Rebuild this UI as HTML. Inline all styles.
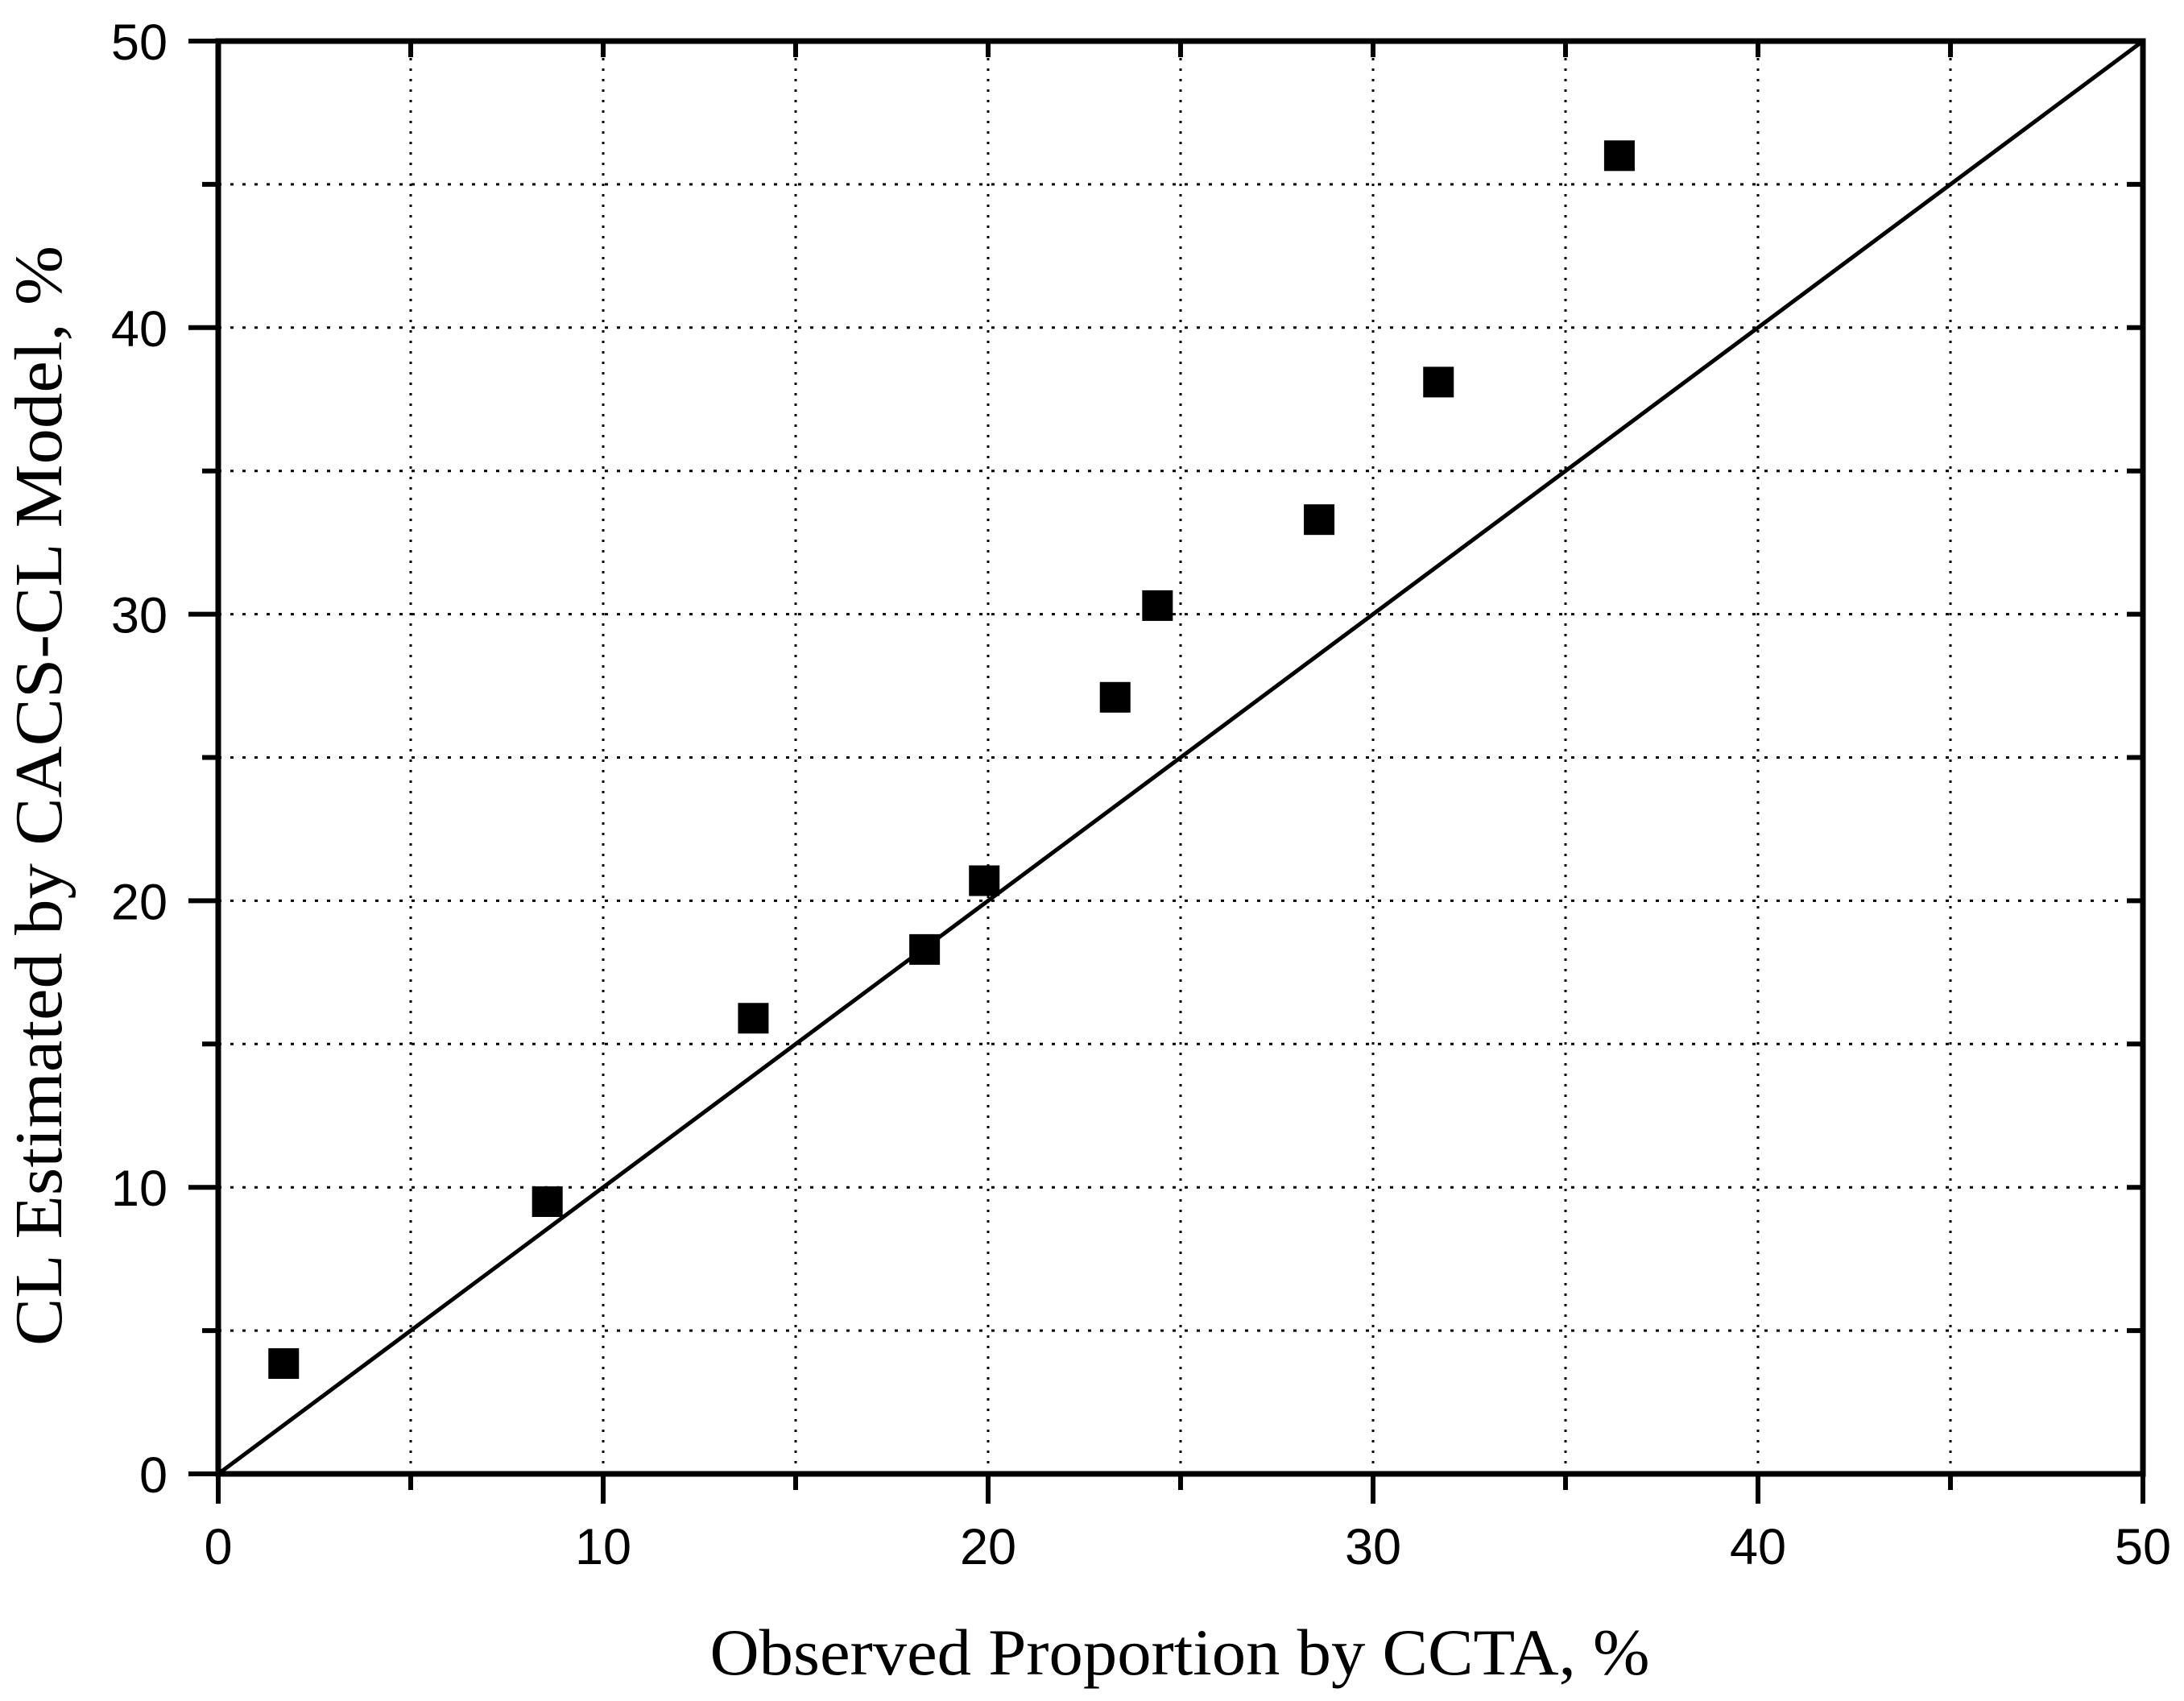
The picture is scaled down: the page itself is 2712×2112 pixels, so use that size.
<!DOCTYPE html>
<html><head><meta charset="utf-8"><style>
html,body{margin:0;padding:0;background:#fff;}
svg{display:block;}
</style></head><body>
<svg id="chart" width="2712" height="2112" viewBox="0 0 2712 2112" xmlns="http://www.w3.org/2000/svg">
<g id="grid"></g>
<g id="ticks"></g>
<g id="labels" font-family="Liberation Sans, Arial, sans-serif" font-size="63" fill="#000"></g>
<line id="diag" stroke="#000" stroke-width="5"/>
<g id="points"></g>
<rect x="271" y="51" width="2390" height="1779" fill="none" stroke="#000" stroke-width="7"/>
<text x="1465" y="2079" text-anchor="middle" font-family="Liberation Serif, Times New Roman, serif" font-size="82" textLength="1167" lengthAdjust="spacingAndGlyphs">Observed Proportion by CCTA, %</text>
<text transform="translate(76,988) rotate(-90)" text-anchor="middle" font-family="Liberation Serif, Times New Roman, serif" font-size="84" textLength="1366" lengthAdjust="spacingAndGlyphs">CL Estimated by CACS-CL Model, %</text>
</svg>
<script>
const xValues = [1.7, 8.55, 13.9, 18.35, 19.9, 23.3, 24.4, 28.6, 31.7, 36.4];
const yValues = [3.85, 9.5, 15.9, 18.3, 20.7, 27.1, 30.3, 33.3, 38.1, 46.0];
const xTickLabels = ["0","10","20","30","40","50"];
const yTickLabels = ["0","10","20","30","40","50"];
const X0=271, X1=2661, Y0=1830, Y1=51, MIN=0, MAX=50;
function sx(v){return X0+(v-MIN)/(MAX-MIN)*(X1-X0);}
function sy(v){return Y0-(v-MIN)/(MAX-MIN)*(Y0-Y1);}
const NS="http://www.w3.org/2000/svg";
function mk(tag,attrs,parent){const e=document.createElementNS(NS,tag);for(const k in attrs)e.setAttribute(k,attrs[k]);parent.appendChild(e);return e;}
const grid=document.getElementById('grid'), ticks=document.getElementById('ticks'), labels=document.getElementById('labels'), pts=document.getElementById('points');
for(let v=5; v<50; v+=5){
  let g=mk('line',{x1:sx(v),x2:sx(v),y1:Y0,y2:Y1,stroke:'#000','stroke-width':3,'stroke-dasharray':'3 10'},grid);
  
  
  g=mk('line',{x1:X0,x2:X1,y1:sy(v),y2:sy(v),stroke:'#000','stroke-width':3,'stroke-dasharray':'4 11'},grid);
  
  
}
for(let v=0; v<=50; v+=5){
  const major = v%10===0;
  const outL = major?37:20, inL = 20;
  let t=mk('line',{x1:sx(v),x2:sx(v),y1:Y0,y2:Y0+outL,stroke:'#000','stroke-width':6},ticks);
  
  
  t=mk('line',{x1:sx(v),x2:sx(v),y1:Y1,y2:Y1+inL,stroke:'#000','stroke-width':6},ticks);
  
  
  t=mk('line',{x1:X0-outL,x2:X0,y1:sy(v),y2:sy(v),stroke:'#000','stroke-width':6},ticks);
  
  
  t=mk('line',{x1:X1-inL,x2:X1,y1:sy(v),y2:sy(v),stroke:'#000','stroke-width':6},ticks);
  
  
}
xTickLabels.forEach((s,i)=>{
  const v=Number(s);
  const t=mk('text',{x:sx(v),y:1942,'text-anchor':'middle'},labels);
  t.textContent=s;
  
  
});
yTickLabels.forEach((s,i)=>{
  const v=Number(s);
  const t=mk('text',{x:208,y:sy(v)+23,'text-anchor':'end'},labels);
  t.textContent=s;
  
  
});
const d=document.getElementById('diag');
d.setAttribute('x1',sx(0));d.setAttribute('y1',sy(0));d.setAttribute('x2',sx(50));d.setAttribute('y2',sy(50));
const S=38;
xValues.forEach((xv,i)=>{
  const r=mk('rect',{x:sx(xv)-S/2,y:sy(yValues[i])-S/2,width:S,height:S,fill:'#000'},pts);
  
  
});
</script>
</body></html>
